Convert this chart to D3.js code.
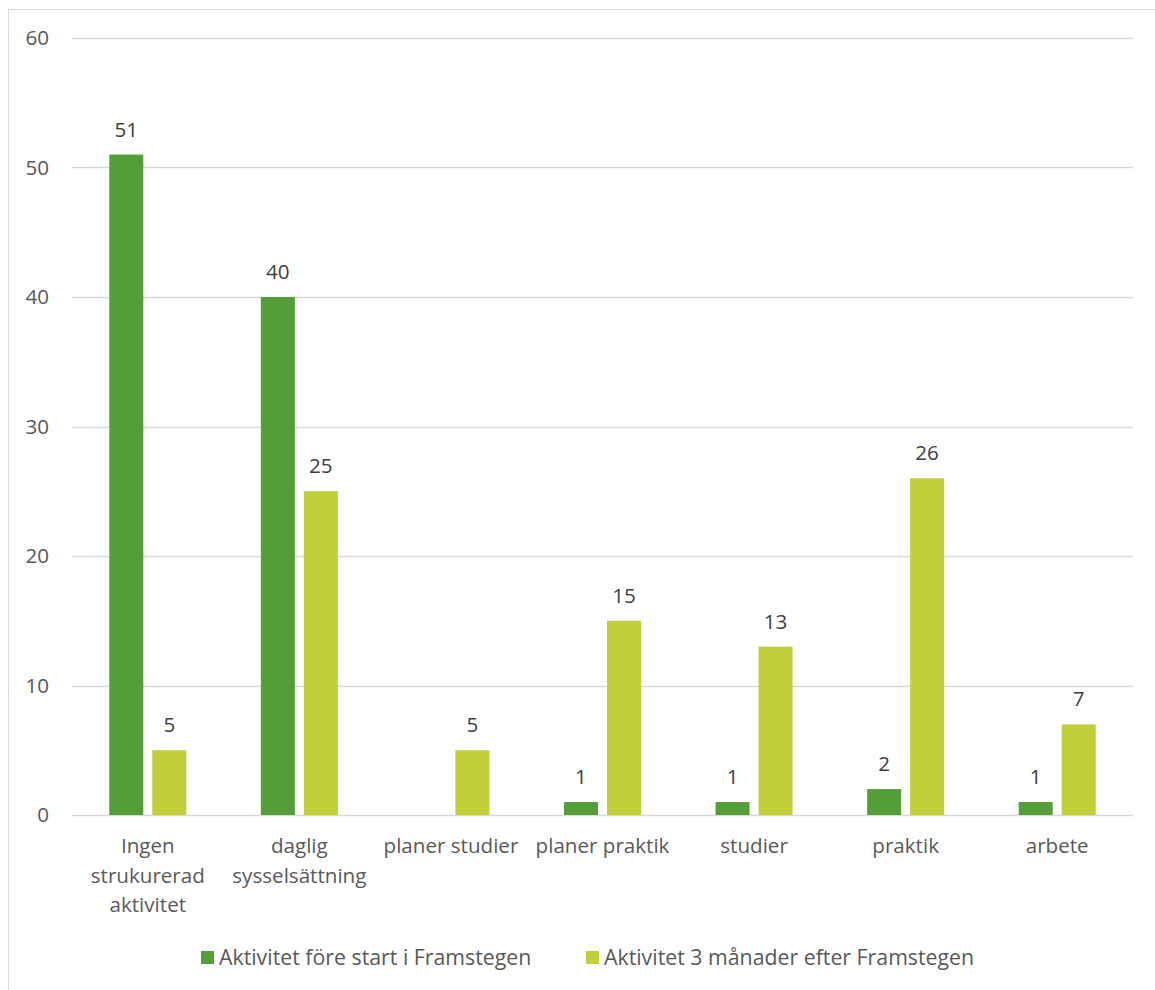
<!DOCTYPE html>
<html><head><meta charset="utf-8">
<script src="https://cdn.jsdelivr.net/npm/d3@7"></script>
<style>html,body{margin:0;padding:0;background:#fff;}svg{display:block;}</style>
</head><body>
<svg id="chart" width="1155" height="990"></svg>
<script>
const categories = ["Ingen strukurerad aktivitet", "daglig sysselsättning", "planer studier", "planer praktik", "studier", "praktik", "arbete"];
const seriesNames = ["Aktivitet före start i Framstegen", "Aktivitet 3 månader efter Framstegen"];
const before = [51, 40, null, 1, 1, 2, 1];
const after = [5, 25, 5, 15, 13, 26, 7];
const yTicks = [0, 10, 20, 30, 40, 50, 60];
const colors = ["#549E39", "#C0CF3A"];

(function () {
const svg = d3.select("#chart");
const font = "'Open Sans', sans-serif";
const fs = 20.6;
const pLeft = 72, pRight = 1133, pTop = 38, pBottom = 815;

svg.append("rect").attr("x", 8.5).attr("y", 9.5).attr("width", 1160).attr("height", 1000)
  .attr("fill", "#fff").attr("stroke", "#d9d9d9").attr("stroke-width", 1);

const y = d3.scaleLinear().domain([0, 60]).range([pBottom, pTop]);
const x0 = d3.scaleBand().domain(categories).range([pLeft, pRight]).paddingInner(0.492).paddingOuter(0.246);
const x1 = d3.scaleBand().domain(seriesNames).range([0, x0.bandwidth()]).paddingInner(0.2093);

// gridlines
svg.append("g").selectAll("line").data(yTicks).join("line")
  .attr("x1", pLeft).attr("x2", pRight)
  .attr("y1", d => Math.round(y(d)) + 0.5).attr("y2", d => Math.round(y(d)) + 0.5)
  .attr("stroke", "#d9d9d9").attr("stroke-width", 1.5);

// y axis labels
const yAxis = d3.axisLeft(y).tickValues(yTicks).tickSize(0).tickPadding(0);
const yg = svg.append("g").attr("transform", "translate(49,0)").call(yAxis);
yg.select(".domain").remove();
yg.selectAll("text").attr("font-family", font).attr("font-size", fs).attr("fill", "#595959");

const rows = categories.map((c, i) => ({ cat: c, vals: [before[i], after[i]] }));
const groups = svg.append("g").selectAll("g").data(rows).join("g")
  .attr("transform", d => `translate(${x0(d.cat)},0)`);

groups.selectAll("rect").data(d => d.vals.map((v, j) => ({ v, s: seriesNames[j], j })).filter(e => e.v != null))
  .join("rect")
  .attr("x", e => x1(e.s)).attr("width", x1.bandwidth())
  .attr("y", e => y(e.v)).attr("height", e => y(0) - y(e.v))
  .attr("fill", e => colors[e.j]);

groups.selectAll("text").data(d => d.vals.map((v, j) => ({ v, s: seriesNames[j], j })).filter(e => e.v != null))
  .join("text")
  .attr("x", e => x1(e.s) + x1.bandwidth() / 2).attr("y", e => y(e.v) - 18)
  .attr("text-anchor", "middle").attr("font-family", font).attr("font-size", fs).attr("fill", "#404040")
  .text(e => e.v);

// x axis labels with wrapping
const xAxis = d3.axisBottom(x0).tickSize(0).tickPadding(0);
const xg = svg.append("g").attr("transform", `translate(0,${pBottom})`).call(xAxis);
xg.select(".domain").remove();
xg.selectAll("text").attr("font-family", font).attr("font-size", fs).attr("fill", "#595959")
  .attr("y", 0).attr("dy", null)
  .each(function(d) {
    const t = d3.select(this);
    const words = d.split(" ");
    t.text(null);
    const lines = [];
    let cur = [];
    const probe = t.append("tspan");
    words.forEach(w => {
      const test = cur.concat([w]).join(" ");
      probe.text(test);
      if (cur.length && probe.node().getComputedTextLength() > 150) {
        lines.push(cur.join(" ")); cur = [w];
      } else cur.push(w);
    });
    lines.push(cur.join(" "));
    probe.remove();
    lines.forEach((l, i) => t.append("tspan").attr("x", 0).attr("y", 38 + i * 29.5).text(l));
  });

// legend
const legend = svg.append("g");
const legX = [201, 586];
seriesNames.forEach((s, i) => {
  legend.append("rect").attr("x", legX[i]).attr("y", 951).attr("width", 13).attr("height", 13).attr("fill", colors[i]);
  legend.append("text").attr("x", legX[i] + 18).attr("y", 965)
    .attr("font-family", font).attr("font-size", 21.3).attr("fill", "#595959").text(s);
});
})();
</script>
</body></html>
